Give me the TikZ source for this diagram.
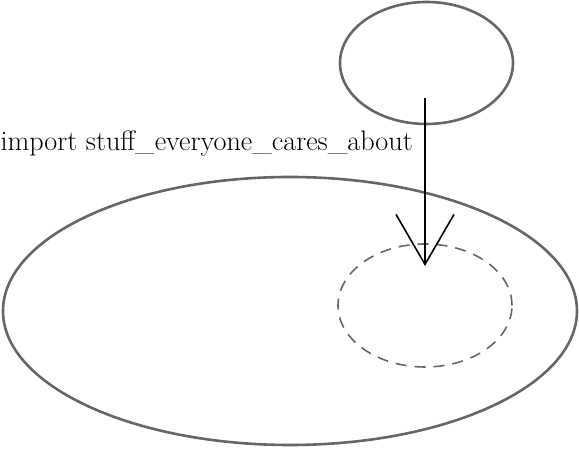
\documentclass[tikz,border=0pt]{standalone}
\usetikzlibrary{shapes.geometric,arrows.meta}
\begin{document}
\begin{tikzpicture}[x=1pt,y=1pt,
  solidell/.style={ellipse, draw=black!60, line width=2.6pt, inner sep=0pt},
  dashell/.style={ellipse, draw=black!60, line width=1.6pt, dash pattern=on 11pt off 8pt, inner sep=0pt},
  arr/.style={line width=1.6pt, -{Straight Barb[length=50pt,width=58pt,line width=1.6pt]}},
  lbl/.style={font=\fontsize{28.2}{34}\selectfont, inner sep=0pt, anchor=base east}]
\useasboundingbox (0,0) rectangle (579,449);
\node[solidell, minimum width=173pt, minimum height=122pt] (top) at (426.5,386) {};
\node[solidell, minimum width=574pt, minimum height=268pt] (big) at (290,138) {};
\node[dashell, minimum width=174pt, minimum height=123pt] (inner) at (425,143.5) {};
\coordinate (s) at (425,351);
\coordinate (t) at (425,183);
\draw[arr] (s) -- (t);
\node[lbl] (label) at (413,298) {import stuff\_everyone\_cares\_about};
\end{tikzpicture}
\end{document}
